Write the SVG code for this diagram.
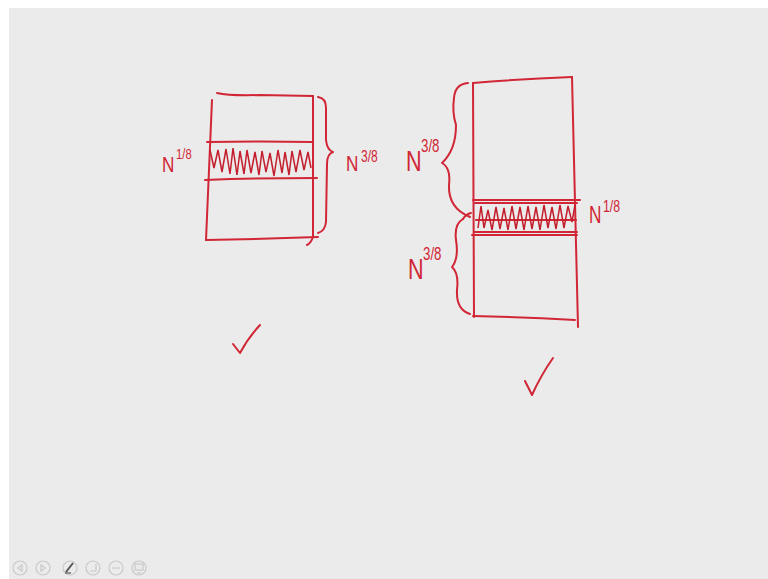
<svg xmlns="http://www.w3.org/2000/svg" width="768" height="579" viewBox="0 0 768 579">
<style>
.ink{fill:none;stroke:#d12636;stroke-width:2;stroke-linecap:round;stroke-linejoin:round}
.zz{fill:none;stroke:#c41e2c;stroke-width:1.5;stroke-linejoin:miter}
.lbl{font-family:"Liberation Sans",Arial,sans-serif;fill:#d12636}
.ic{fill:none;stroke:#c9c9c9;stroke-width:1.2}
</style>
<rect x="0" y="0" width="768" height="579" fill="#ffffff"/>
<rect x="9" y="8" width="759" height="571" fill="#ebebeb"/>

<g id="box-left">
<path class="ink" d="M217,93 Q230,96 260,95 L313,96"/>
<path class="ink" d="M212,100 L206,240"/>
<path class="ink" d="M313,96 L313,237 Q311,243 307,245"/>
<path class="ink" d="M206,240 Q260,239 318,237"/>
<path class="ink" d="M207,142 Q260,141 313,142"/>
<path class="ink" d="M205,180 Q260,178 317,178"/>
<polyline class="zz" points="210,150 214,168 218,150 222,172 226,149 230,174 233,148 237,175 240,151 244,174 247,150 251,173 255,152 259,175 262,151 266,172 270,153 274,176 278,150 282,173 285,152 289,175 292,151 296,172 300,150 304,170 308,152 311,168"/>
</g>

<g id="box-right">
<path class="ink" d="M473,83 Q520,79 572,77"/>
<path class="ink" d="M473,83 L474,317"/>
<path class="ink" d="M572,77 L578,327"/>
<path class="ink" d="M473,316 Q525,317 575,320"/>
<path class="ink" d="M473,200 L580,200"/>
<path class="ink" d="M475,203 L577,203"/>
<path class="ink" d="M476,220 L576,220"/>
<path class="ink" d="M474,232 L577,232"/>
<path class="ink" d="M472,235 L577,235"/>
<polyline class="zz" points="478,228 481,206 484,228 488,210 492,230 496,207 500,229 504,208 508,230 512,206 516,229 520,207 524,230 528,206 532,229 536,207 540,230 544,205 548,228 552,207 556,229 560,205 564,228 568,206 572,222 575,205"/>
</g>

<g id="connectors">
<path class="ink" d="M318,97 Q326,98 326,108 L326,140 Q327,150 333,152 Q327,154 327,164 L326,222 Q325,231 318,233"/>
<path class="ink" d="M468,83 Q455,84 454,98 Q452,112 456,125 Q456,150 442,163 Q451,168 449,185 Q448,208 470,217"/>
<path class="ink" d="M463,219 Q466,214 471,213"/>
<path class="ink" d="M463,219 Q454,224 456,240 Q459,258 452,267 Q459,273 457,290 Q456,310 470,314"/>
</g>

<g id="labels">
<text class="lbl" transform="translate(162,172) scale(0.78,1)" font-size="22">N</text>
<text class="lbl" transform="translate(176,159) scale(0.75,1)" font-size="15">1/8</text>
<text class="lbl" transform="translate(346,171) scale(0.78,1)" font-size="22">N</text>
<text class="lbl" transform="translate(361,162) scale(0.75,1)" font-size="16">3/8</text>
<text class="lbl" transform="translate(406,171) scale(0.72,1)" font-size="30">N</text>
<text class="lbl" transform="translate(421,152) scale(0.7,1)" font-size="19">3/8</text>
<text class="lbl" transform="translate(408,279) scale(0.72,1)" font-size="30">N</text>
<text class="lbl" transform="translate(423,260) scale(0.7,1)" font-size="19">3/8</text>
<text class="lbl" transform="translate(589,223) scale(0.75,1)" font-size="23">N</text>
<text class="lbl" transform="translate(603,212) scale(0.72,1)" font-size="17">1/8</text>
</g>

<g id="checks">
<path class="ink" d="M233,344 L240,353 Q248,338 260,325"/>
<path class="ink" d="M525,381 L532,395 Q541,375 553,358"/>
</g>

<g id="toolbar">
<circle class="ic" cx="20" cy="568" r="7"/>
<path class="ic" d="M22,565 L18,568 L22,571 Z"/>
<circle class="ic" cx="43" cy="568" r="7"/>
<path class="ic" d="M41,565 L45,568 L41,571 Z"/>
<circle class="ic" cx="70" cy="568" r="7" stroke="#a8a8a8"/>
<path d="M66,572 L73,563" stroke="#555" stroke-width="2" fill="none"/>
<path d="M65,573 L71,573" stroke="#555" stroke-width="1.2" fill="none"/>
<circle class="ic" cx="93" cy="568" r="7"/>
<path class="ic" d="M96,564 L96,571 L90,571"/>
<circle class="ic" cx="116" cy="568" r="7"/>
<path class="ic" d="M112,568 L120,568"/>
<circle class="ic" cx="139" cy="568" r="7"/>
<rect class="ic" x="135" y="564" width="8" height="6"/>
<path class="ic" d="M137,573 L141,573"/>
</g>
</svg>
